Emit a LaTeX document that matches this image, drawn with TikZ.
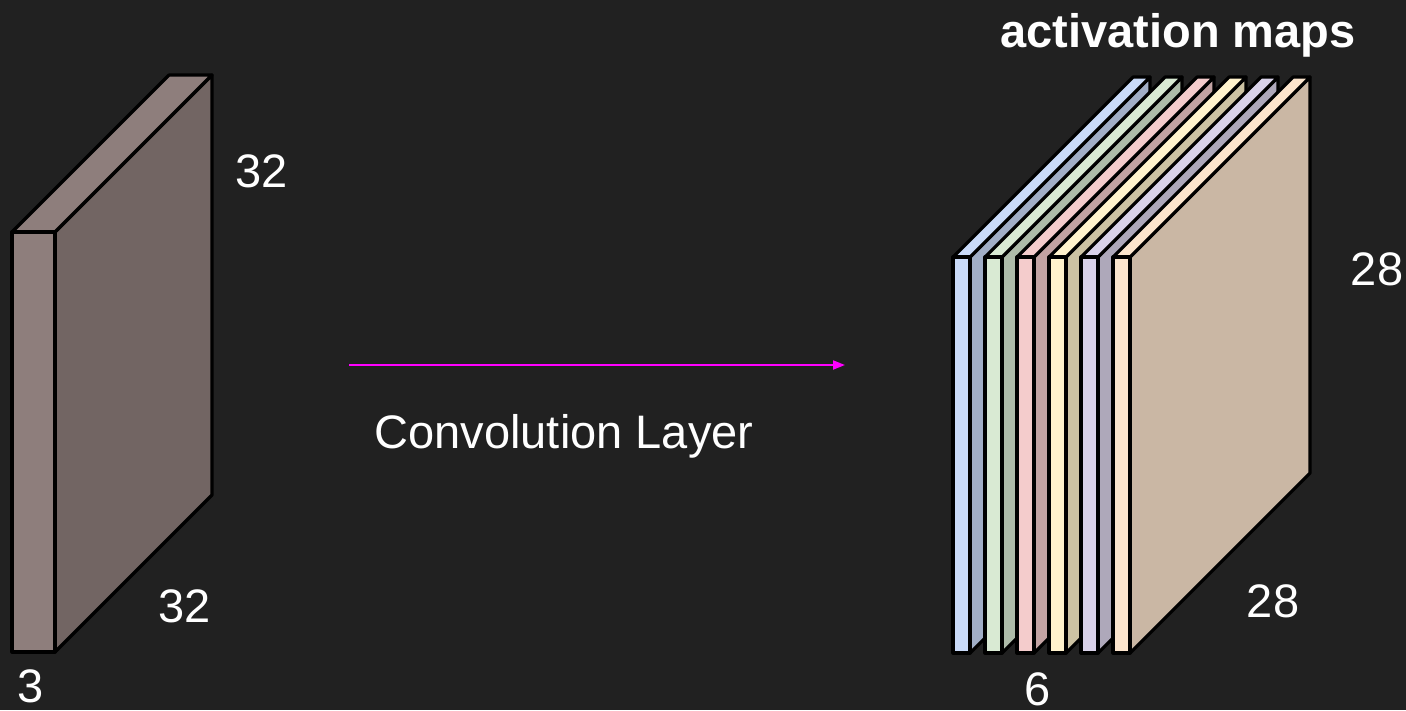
\documentclass[tikz,border=0pt]{standalone}
\usepackage{fontspec}
\setmainfont{Liberation Sans}
\usetikzlibrary{arrows.meta}
\definecolor{bg}{HTML}{212121}
\definecolor{inFront}{HTML}{8E7E7C}
\definecolor{inSide}{HTML}{726563}
\definecolor{arrowcol}{HTML}{FF00FF}
\tikzset{
  face/.style={draw=black, line width=3.2pt, line join=round},
  lbl/.style={text=white, font=\fontsize{47}{56}\selectfont, anchor=base, inner sep=0pt},
  ttl/.style={text=white, font=\fontsize{47}{56}\selectfont\bfseries, anchor=base, inner sep=0pt},
  conv/.style={draw=arrowcol, line width=2pt, -{Triangle[length=12pt,width=9pt]}}
}
\begin{document}
\begin{tikzpicture}[x=1pt,y=-1pt]
\fill[bg] (0,0) rectangle (1406,710);
\useasboundingbox (0,0) rectangle (1406,710);

% input volume 32x32x3
\path[face, fill=inSide] (55,232) -- (212,75) -- (212,495) -- (55,652) -- cycle;
\path[face, fill=inFront] (12,232) -- (55,232) -- (212,75) -- (169,75) -- cycle;
\path[face, fill=inFront] (12,232) rectangle (55,652);

% activation maps
\foreach \c [count=\i from 0] in {C9DAF8,D9EAD3,F4CCCC,FFF2CC,D9D2E9,FCE5CD} {
  \definecolor{fc}{HTML}{\c}
  \pgfmathsetmacro\xa{953+32*\i}
  \path[face, fill=fc!80!black] (\xa+17,257) -- ++(180,-180) -- ++(0,396) -- ++(-180,180) -- cycle;
  \path[face, fill=fc] (\xa,257) -- ++(17,0) -- ++(180,-180) -- ++(-17,0) -- cycle;
  \path[face, fill=fc] (\xa,257) rectangle ++(17,396);
}

% arrow
\coordinate (cstart) at (349,365);
\coordinate (cend) at (845,365);
\draw[conv] (cstart) -- (cend);

% labels
\node[lbl] (conv) at (564,448) {Convolution Layer};
\node[ttl] (act) at (1178,47) {activation maps};
\node[lbl] (w32) at (262,187) {32};
\node[lbl] (h32) at (185,622) {32};
\node[lbl] (d3) at (31,702) {3};
\node[lbl] (w28) at (1377,285) {28};
\node[lbl] (h28) at (1273,617) {28};
\node[lbl] (d6) at (1038,705) {6};
\end{tikzpicture}
\end{document}
